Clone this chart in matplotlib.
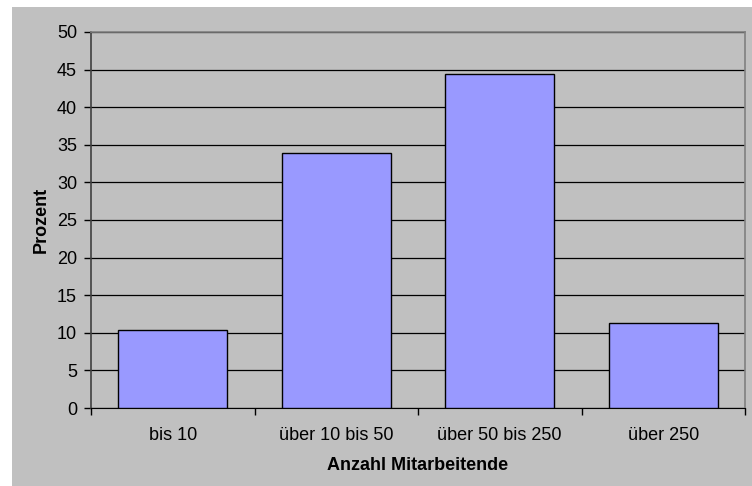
import matplotlib
matplotlib.use("Agg")
import matplotlib.pyplot as plt
from matplotlib.patches import Rectangle

categories = ["bis 10", "über 10 bis 50", "über 50 bis 250", "über 250"]
prozent = [10.35, 33.9, 44.35, 11.3]
yticks = [0, 5, 10, 15, 20, 25, 30, 35, 40, 45, 50]

plt.rcParams["font.family"] = ["Liberation Sans", "DejaVu Sans"]
FS = 13

W, H = 752, 486
fig = plt.figure(figsize=(W / 100, H / 100), dpi=100)
fig.patch.set_facecolor("white")
# grey chart area, offset slightly from the image edge
fig.add_artist(Rectangle((12 / W, 0), 1, 1 - 7 / H, transform=fig.transFigure,
                         facecolor="#c0c0c0", edgecolor="none", zorder=-10))

ax = fig.add_axes([91 / W, 78 / H, (745 - 91) / W, (408 - 32) / H])
ax.set_facecolor("#c0c0c0")

x = range(len(categories))
ax.bar(x, prozent, width=0.667, color="#9999ff", edgecolor="black",
       linewidth=1.0, zorder=3)

ax.set_xlim(-0.5, len(categories) - 0.5)
ax.set_ylim(0, 50)
ax.set_yticks(yticks)
ax.yaxis.grid(True, color="black", linewidth=0.9, zorder=0)
ax.set_axisbelow(True)

# category ticks sit between the bars
ax.set_xticks([i - 0.5 for i in range(len(categories) + 1)])
ax.set_xticklabels([])
ax.set_xticks(list(x), minor=True)
ax.set_xticklabels(categories, minor=True, fontsize=FS)
ax.tick_params(axis="x", which="minor", length=0, pad=14)
ax.tick_params(axis="x", which="major", direction="out", length=5, width=1)
ax.tick_params(axis="y", direction="out", length=5, width=1, labelsize=FS, pad=5)

for side in ("top", "right"):
    ax.spines[side].set_color("#808080")
    ax.spines[side].set_linewidth(1.2)
ax.spines["left"].set_color("#404040")
ax.spines["left"].set_linewidth(1.2)
ax.spines["bottom"].set_color("black")

ax.set_xlabel("Anzahl Mitarbeitende", fontsize=FS, fontweight="bold", labelpad=9)
ax.set_ylabel("Prozent", fontsize=FS, fontweight="bold", labelpad=5)

fig.savefig("out.png", dpi=100)
